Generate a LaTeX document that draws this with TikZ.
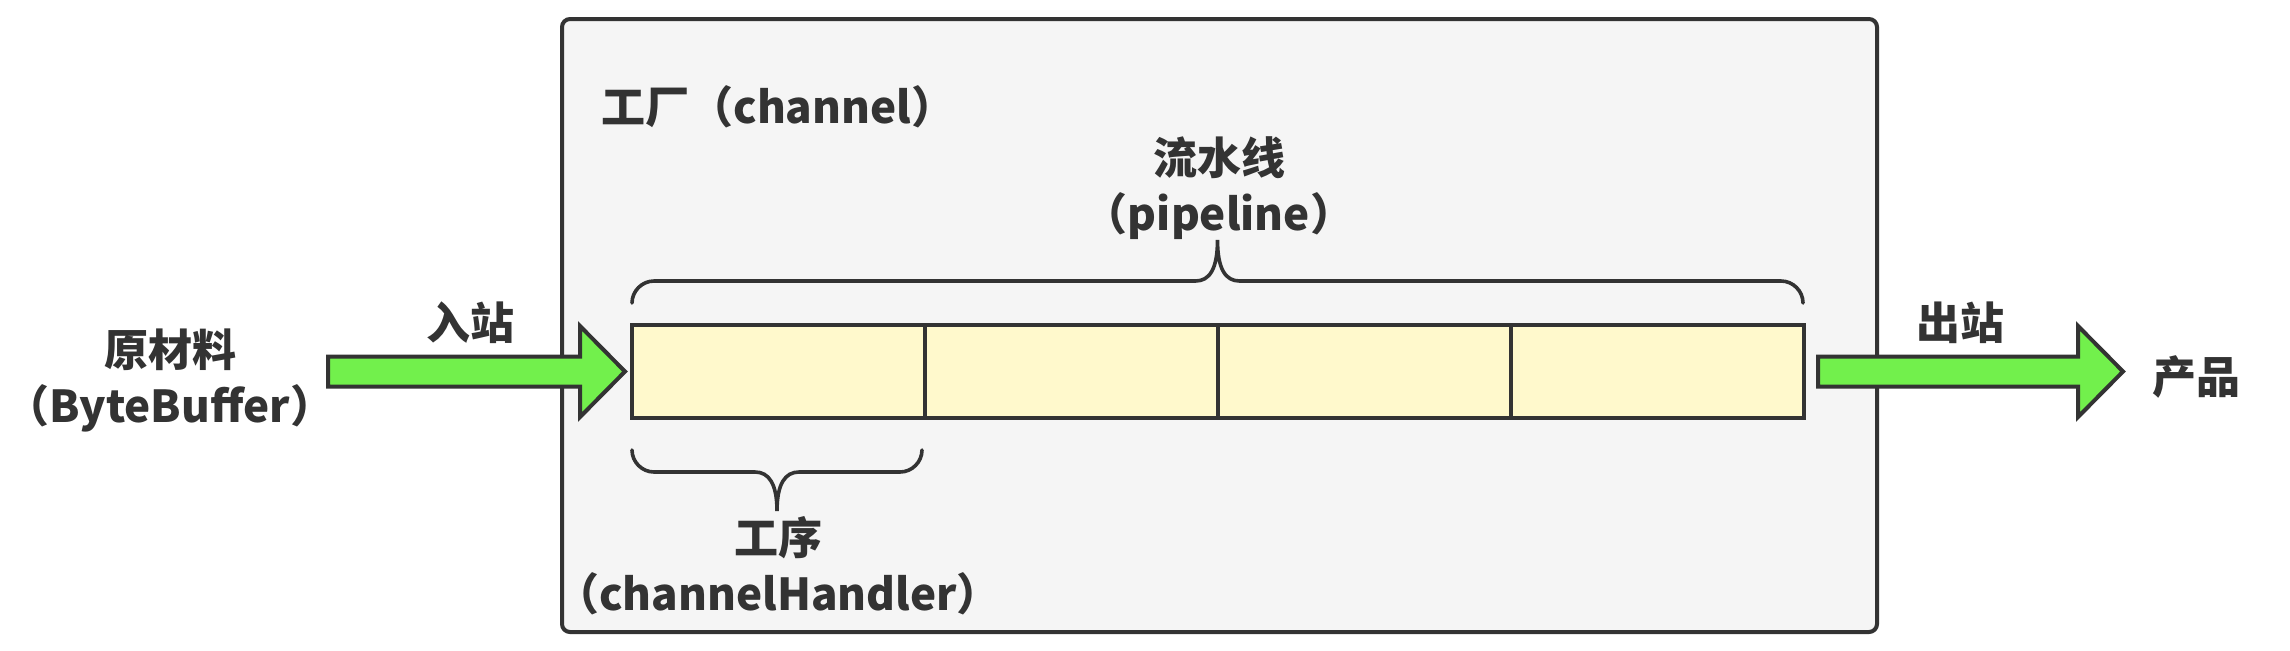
\documentclass[tikz,border=0pt]{standalone}
\usepackage{fontspec}
\newfontfamily\cjk{Noto Sans CJK SC}
\usetikzlibrary{calc}
\definecolor{ink}{HTML}{333333}
\definecolor{arrowgreen}{HTML}{72F04C}
\definecolor{cellyellow}{HTML}{FFF9CC}
\definecolor{boxgray}{HTML}{F5F5F5}
\newcommand\blockarr[2]{\path[blockarrow] let \p1=(#1), \p2=(#2) in
  (\x1,\y1+7.5pt) -- (\x2-22.5pt,\y1+7.5pt) -- (\x2-22.5pt,\y1+22.75pt) -- (\x2,\y1)
  -- (\x2-22.5pt,\y1-22.75pt) -- (\x2-22.5pt,\y1-7.5pt) -- (\x1,\y1-7.5pt) -- cycle;}
\newcommand\pbrace[5]{%
  \draw[bracepath] ({#1},{#3}) .. controls ({#1},{#3+(#4)*12}) and ({#1+10},{#3+(#4)*22}) .. ({#1+22},{#3+(#4)*22})
  -- ({(#1+#2)/2-22},{#3+(#4)*22}) .. controls ({(#1+#2)/2-8},{#3+(#4)*22}) and ({(#1+#2)/2},{#3+(#4)*34}) .. ({(#1+#2)/2},{#3+(#4)*#5})
  .. controls ({(#1+#2)/2},{#3+(#4)*34}) and ({(#1+#2)/2+8},{#3+(#4)*22}) .. ({(#1+#2)/2+22},{#3+(#4)*22})
  -- ({#2-22},{#3+(#4)*22}) .. controls ({#2-10},{#3+(#4)*22}) and ({#2},{#3+(#4)*12}) .. ({#2},{#3});}
\begin{document}
\begin{tikzpicture}[x=0.5pt,y=-0.5pt,
  txt/.style={font=\cjk\bfseries\fontsize{22}{28}\selectfont, text=ink, inner sep=0pt, align=center},
  cell/.style={draw=ink, line width=2pt, fill=cellyellow, minimum width=146.5pt, minimum height=46.5pt, inner sep=0pt, outer sep=0pt, anchor=west},
  bracepath/.style={draw=ink, line width=1.8pt, line cap=round},
  blockarrow/.style={draw=ink, line width=2pt, fill=arrowgreen, line join=miter}]
\useasboundingbox (0,0) rectangle (2290,650);
\node[draw=ink, line width=2pt, fill=boxgray, rounded corners=4pt, minimum width=657.5pt, minimum height=306.5pt, inner sep=0pt] (factory) at (1219.5,325.5) {};
\node[txt, anchor=west] (title) at (601,107) {工厂（channel）};
\node[cell] (s1) at (632,371.5) {};
\node[cell] (s2) at (s1.east) {};
\node[cell] (s3) at (s2.east) {};
\node[cell] (s4) at (s3.east) {};
\pbrace{632}{1803}{303}{-1}{63}
\pbrace{632}{922}{450}{1}{61}
\node[txt] (pipe) at (1219,188) {流水线\\（pipeline）};
\node[txt] (handler) at (778,566) {工序\\（channelHandler）};
\node[txt] (raw) at (170,380) {原材料\\（ByteBuffer）};
\node[txt] (inLbl) at (470,323) {入站};
\node[txt] (outLbl) at (1960,323) {出站};
\node[txt] (product) at (2196,377) {产品};
\coordinate (inT) at ($(s1.west)+(-7,0)$);
\coordinate (inS) at ($(inT)+(-297,0)$);
\coordinate (outS) at ($(s4.east)+(14,0)$);
\coordinate (outT) at ($(outS)+(305,0)$);
\blockarr{inS}{inT}
\blockarr{outS}{outT}
\end{tikzpicture}
\end{document}
